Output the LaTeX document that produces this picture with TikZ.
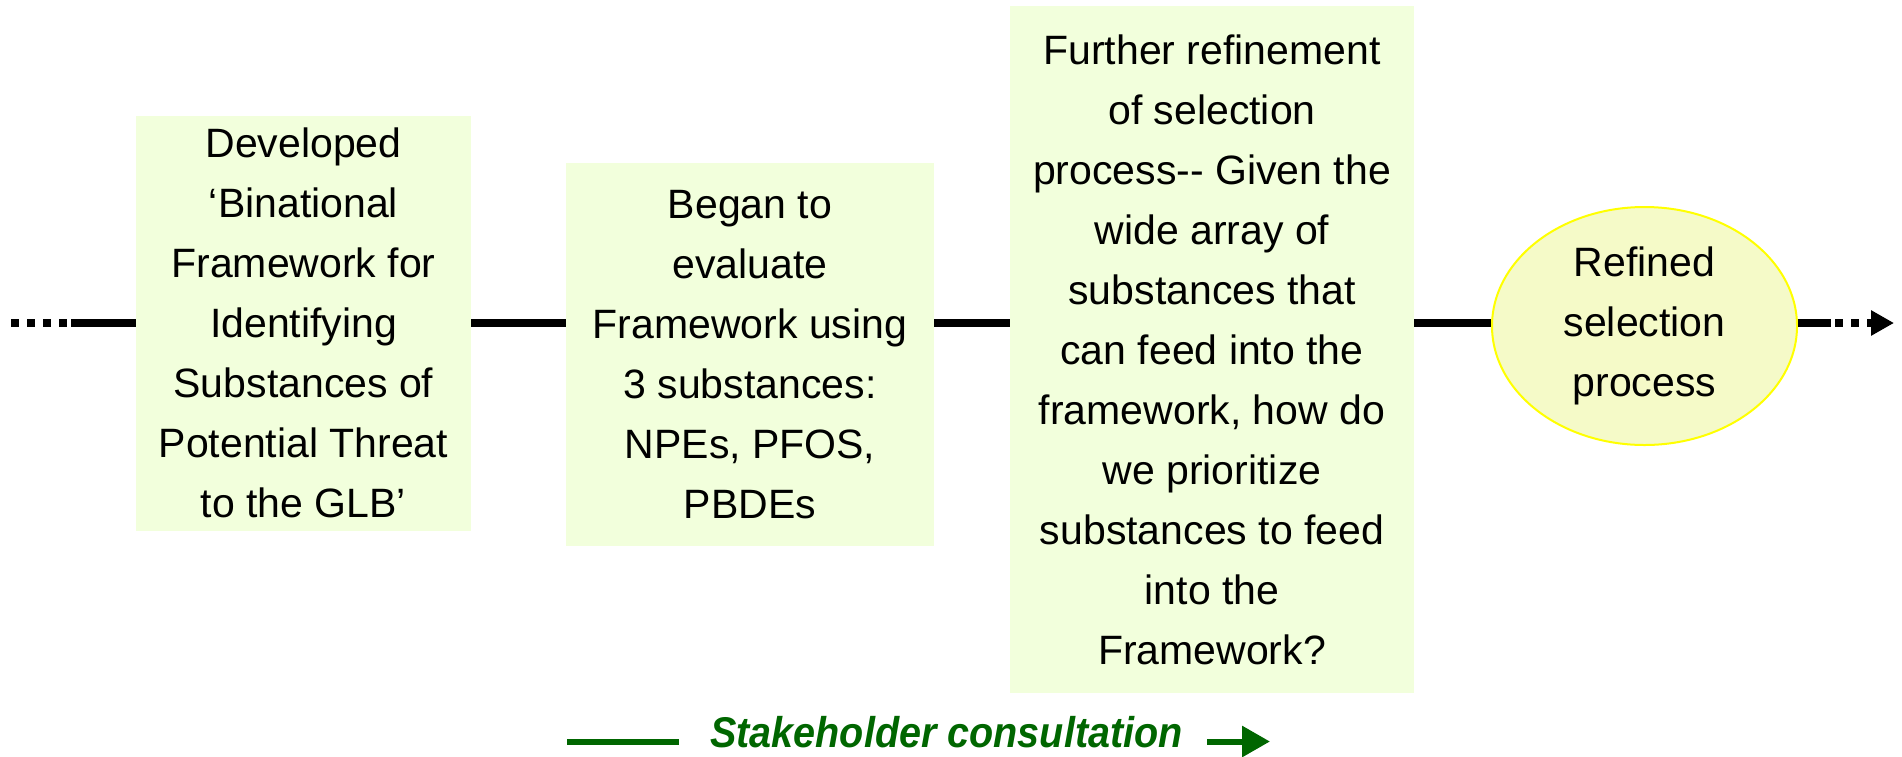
\documentclass[tikz,border=0pt]{standalone}
\usepackage{fontspec}
\setmainfont{Liberation Sans}
\newfontfamily\consultfont{Liberation Sans}[FakeStretch=0.92]
\usetikzlibrary{arrows.meta,shapes.geometric}
\definecolor{boxfill}{RGB}{242,255,220}
\definecolor{ovalfill}{RGB}{245,250,200}
\definecolor{ovalline}{RGB}{255,255,0}
\definecolor{darkgreen}{RGB}{0,102,0}
\begin{document}
\begin{tikzpicture}[x=1pt,y=-1pt]
      \tikzstyle{stage} = [rectangle, fill=boxfill, inner sep=0pt, align=center, font=\fontsize{41}{60}\selectfont]
      \tikzstyle{outcome} = [ellipse, fill=ovalfill, draw=ovalline, line width=2pt, inner sep=0pt, align=center, font=\fontsize{41}{60}\selectfont]
      \tikzstyle{line} = [line width=8pt]
      \tikzstyle{dots} = [line width=8pt, dash pattern=on 8pt off 8pt]
      \tikzstyle{arrow} = [line width=8pt, -{Triangle[length=23pt,width=24pt]}]
      \tikzstyle{greenline} = [darkgreen, line width=6pt]
      \tikzstyle{greenarrow} = [darkgreen, line width=6pt, -{Triangle[length=28pt,width=30pt]}]

      \useasboundingbox (0,0) rectangle (1902,756);

      \node (b1) [stage, minimum width=335pt, minimum height=415pt] at (303.5,323) {Developed\\`Binational\\Framework for\\Identifying\\Substances of\\Potential Threat\\to the GLB'};
      \node (b2) [stage, minimum width=368pt, minimum height=383pt] at (750,354.5) {Began to\\evaluate\\Framework using\\3 substances:\\NPEs, PFOS,\\PBDEs};
      \node (b3) [stage, minimum width=404pt, minimum height=687pt] at (1212,349.5) {Further refinement\\of selection\\process-{}- Given the\\wide array of\\substances that\\can feed into the\\framework, how do\\we prioritize\\substances to feed\\into the\\Framework?};
      \node (out) [outcome, minimum width=305pt, minimum height=238pt] at (1644.5,326) {Refined\\selection\\process};

      \coordinate (start) at (11,323);
      \coordinate (solid) at (71,323);
      \coordinate (tail) at (1831,323);
      \coordinate (dot1) at (1835,323);
      \coordinate (dot2) at (1861,323);
      \coordinate (shaft) at (1867,323);
      \coordinate (tip) at (1894,323);

      \draw [dots] (start) -- (solid);
      \draw [line] (solid) -- (solid -| b1.west);
      \draw [line] (b1.east) -- (b1.east -| b2.west);
      \draw [line] (b1.east -| b2.east) -- (b1.east -| b3.west);
      \draw [line] (b1.east -| b3.east) -- (b1.east -| out.west);
      \draw [line] (b1.east -| out.east) -- (tail);
      \draw [dots] (dot1) -- (dot2);
      \draw [arrow] (shaft) -- (tip);

      % stakeholder consultation
      \node (sc) [anchor=base, text=darkgreen, font=\consultfont\bfseries\itshape\fontsize{43}{50}\selectfont] at (946.5,747) {Stakeholder consultation};
      \coordinate (g1) at (567,741.5);
      \coordinate (g2) at (679,741.5);
      \coordinate (g3) at (1207,741.5);
      \coordinate (g4) at (1270,741.5);
      \draw [greenline] (g1) -- (g2);
      \draw [greenarrow] (g3) -- (g4);
    \end{tikzpicture}
\end{document}
